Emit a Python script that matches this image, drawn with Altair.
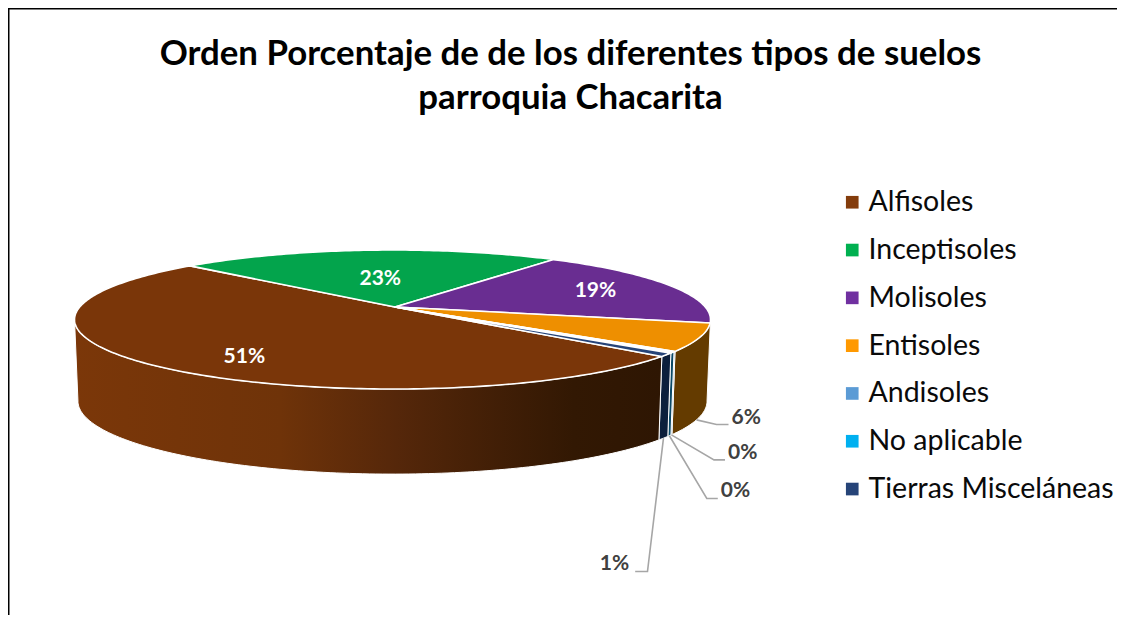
import math
import altair as alt
import pandas as pd

# ---- values ----
suelos = ["Alfisoles", "Inceptisoles", "Molisoles", "Entisoles", "Andisoles", "No aplicable", "Tierras Misceláneas"]
porcentaje = [50.8, 23.0, 18.6, 6.4, 0.1, 0.3, 0.8]
etiquetas = ["51%", "23%", "19%", "6%", "0%", "0%", "1%"]
color_tapa = ["#7A3609", "#03A44C", "#692D91", "#EE8F00", "#5B9BD5", "#22B0E8", "#264478"]
color_pared = ["#7A3609", "#027A38", "#4E216C", "#643B00", "#2E4E6B", "#0B4A68", "#0C1F3C"]
color_leyenda = ["#843C0C", "#00B050", "#7030A0", "#FF9900", "#5B9BD5", "#00B0F0", "#264478"]
titulo = ["Orden Porcentaje de de los diferentes tipos de suelos", "parroquia Chacarita"]

# ---- perspective of the 3-D pie ----
ANGULO_INICIO = 130.5
PERSP = 0.18
TAPA = dict(x0=392.5, y0=307.0, a=67.25, b=312.8)
BASE = dict(x0=392.5, y0=388.0, a=70.6, b=309.4)
APICE = (395.0, 307.0)
VISIBLE = (100.4, 259.6)
FONT = "Lato"


def proj(theta, nivel, r=1.0):
    u = r * math.sin(math.radians(theta))
    v = r * math.cos(math.radians(theta))
    den = 1 + PERSP * v
    return nivel["x0"] + nivel["b"] * u / den, nivel["y0"] - nivel["a"] * v / den


total = sum(porcentaje)
limites = [ANGULO_INICIO]
for p in porcentaje:
    limites.append(limites[-1] + p / total * 360)
medios = [(limites[i] + limites[i + 1]) / 2 for i in range(len(suelos))]

X = alt.X("x:Q", scale=alt.Scale(domain=[8, 1117], range=[0, 1109], nice=False, zero=False), axis=None)
Y = alt.Y("y:Q", scale=alt.Scale(domain=[8, 615], range=[0, 607], nice=False, zero=False), axis=None)


def arco(a, b, paso=1.0):
    n = max(2, int(abs(b - a) / paso) + 1)
    return [a + (b - a) * k / (n - 1) for k in range(n)]


def poligono(puntos, **mark):
    df = pd.DataFrame(puntos, columns=["x", "y"])
    df["i"] = range(len(df))
    return alt.Chart(df).mark_line(interpolate="linear-closed", **mark).encode(
        x=X, y=Y, order="i:Q"
    )


gradiente = alt.Gradient(
    gradient="linear", x1=0, x2=1, y1=0, y2=0,
    stops=[
        alt.GradientStop(offset=0.0, color="#7B3709"),
        alt.GradientStop(offset=0.35, color="#6F3309"),
        alt.GradientStop(offset=0.55, color="#55270A"),
        alt.GradientStop(offset=0.85, color="#321803"),
        alt.GradientStop(offset=1.0, color="#2E1603"),
    ],
)

capas = []

# side wall: only what faces the viewer
for i in [3, 4, 5, 6, 0]:
    a, b = limites[i], limites[i + 1]
    if i == 3:
        a = VISIBLE[0] + 360
    if i == 0:
        b = VISIBLE[1]
    angs = arco(a, b)
    pts = [proj(t, TAPA) for t in angs] + [proj(t, BASE) for t in reversed(angs)]
    relleno = gradiente if i == 0 else color_pared[i]
    capas.append(poligono(pts, fill=relleno, stroke="white", strokeWidth=1))

# top face
for i in range(len(suelos)):
    pts = [APICE] + [proj(t, TAPA) for t in arco(limites[i], limites[i + 1])]
    capas.append(poligono(pts, fill=color_tapa[i], stroke="white", strokeWidth=1.6, strokeJoin="round"))

# inside labels
radio = [0.76, 0.487, 0.728]
giro = [-8.3, 0.0, -1.0]
dentro = pd.DataFrame(
    [
        dict(zip("xyt", (*proj(medios[i] + giro[i], TAPA, radio[i]), etiquetas[i])))
        for i in range(3)
    ]
)
capas.append(
    alt.Chart(dentro)
    .mark_text(font=FONT, fontWeight="bold", fontSize=21, color="white", dy=1.5, dx=0.5)
    .encode(x=X, y=Y, text="t:N")
)

# leader lines and outside labels (offsets of knee and end from the wall point)
codo = {3: (20, 4.7), 4: (42.6, 25), 5: (37.4, 62.7), 6: (-16, 133.3)}
fin = {3: (32, 4.7), 4: (53.6, 25), 5: (48.4, 62.7), 6: (-28.3, 133.3)}
for i in codo:
    x0, y0 = proj(medios[i], BASE)
    guia = pd.DataFrame(
        {
            "x": [x0, x0 + codo[i][0], x0 + fin[i][0]],
            "y": [y0, y0 + codo[i][1], y0 + fin[i][1]],
            "i": [0, 1, 2],
        }
    )
    capas.append(
        alt.Chart(guia).mark_line(color="#A6A6A6", strokeWidth=1.6).encode(x=X, y=Y, order="i:Q")
    )
    der = fin[i][0] > 0
    txt = pd.DataFrame(
        [{"x": x0 + fin[i][0] + (3 if der else -6), "y": y0 + fin[i][1] - 7, "t": etiquetas[i]}]
    )
    capas.append(
        alt.Chart(txt)
        .mark_text(font=FONT, fontWeight="bold", fontSize=21, color="#404040", align="left" if der else "right")
        .encode(x=X, y=Y, text="t:N")
    )

# legend
ley = pd.DataFrame({"suelo": suelos})
capas.append(
    alt.Chart(ley)
    .mark_point(filled=True, shape="square", size=0, opacity=0)
    .encode(
        fill=alt.Fill(
            "suelo:N",
            sort=suelos,
            scale=alt.Scale(domain=suelos, range=color_leyenda),
            legend=alt.Legend(
                title=None,
                orient="none",
                legendX=830,
                legendY=180,
                symbolType="square",
                symbolSize=160,
                symbolOpacity=1,
                symbolStrokeWidth=0,
                labelFont=FONT,
                labelFontSize=28.5,
                labelColor="#0A0A0A",
                labelLimit=300,
                labelOffset=2,
                rowPadding=18.8,
            ),
        )
    )
)

# frame of the picture
capas.append(
    alt.Chart(pd.DataFrame({"a": [0]}))
    .mark_rule(color="black", strokeWidth=3)
    .encode(x=alt.value(0), y=alt.value(0), y2=alt.value(607))
)
capas.append(
    alt.Chart(pd.DataFrame({"a": [0]}))
    .mark_rule(color="black", strokeWidth=3)
    .encode(y=alt.value(0), x=alt.value(0), x2=alt.value(1109))
)

chart = (
    alt.layer(*capas)
    .properties(
        width=1109,
        height=607,
        padding=0,
        autosize=alt.AutoSizeParams(type="none"),
        title=alt.TitleParams(
            text=titulo,
            font=FONT,
            fontWeight="bold",
            fontSize=34.8,
            lineHeight=44,
            color="#000000",
            anchor="start",
            align="center",
            dx=564,
            dy=114,
        ),
    )
    .configure_view(stroke=None)
)

chart.save("out.html", embed_options={"renderer": "svg", "actions": False})
